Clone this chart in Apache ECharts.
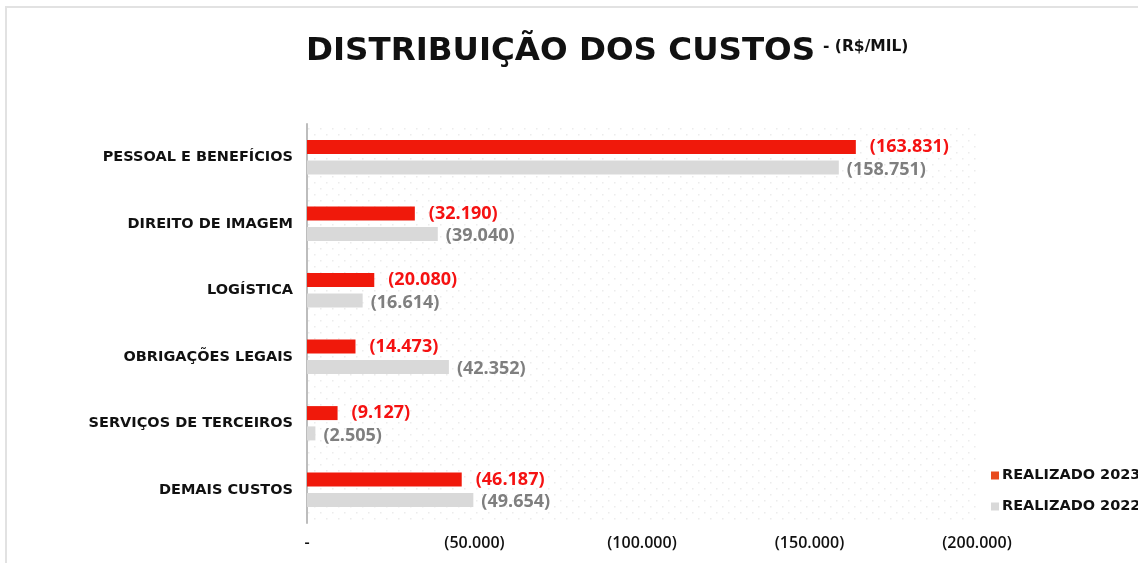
<!DOCTYPE html>
<html>
<head>
<meta charset="utf-8">
<title>Distribuição dos custos</title>
<script src="https://cdn.jsdelivr.net/npm/echarts@6/dist/echarts.min.js"></script>
<style>
  html, body { margin: 0; padding: 0; background: #fff; }
  #chart { width: 1138px; height: 563px; }
</style>
</head>
<body>
<div id="chart"></div>
<script>
// categorias (de cima para baixo)
const categorias = ['PESSOAL E BENEFÍCIOS', 'DIREITO DE IMAGEM', 'LOGÍSTICA', 'OBRIGAÇÕES LEGAIS', 'SERVIÇOS DE TERCEIROS', 'DEMAIS CUSTOS']
// valores em R$ mil
const realizado2023 = [163831, 32190, 20080, 14473, 9127, 46187]
const realizado2022 = [158751, 39040, 16614, 42352, 2505, 49654]
// eixo x
const eixoMin = 0
const eixoMax = 200000
const eixoIntervalo = 50000

// numero no formato brasileiro entre parenteses
const formatar = (v) => '(' + String(v).replace(/\B(?=(\d{3})+(?!\d))/g, '.') + ')'

// fundo pontilhado da area do grafico
const criarPadrao = () => {
  const c = document.createElement('canvas')
  c.width = 12
  c.height = 12
  const ctx = c.getContext('2d')
  ctx.fillStyle = '#ececec'
  ctx.fillRect(2, 2, 1.5, 1.5)
  ctx.fillRect(8, 8, 1.5, 1.5)
  return c
}

const chart = echarts.init(document.getElementById('chart'))
const option = {
  animation: false,
  backgroundColor: '#fff',
  title: [
    {
      text: 'DISTRIBUIÇÃO DOS CUSTOS',
      left: 301,
      top: 30,
      textStyle: { fontFamily: 'DejaVu Sans', fontWeight: 'bold', fontSize: 32.5, color: '#111' }
    },
    {
      text: '- (R$/MIL)',
      left: 818,
      top: 34,
      textStyle: { fontFamily: 'DejaVu Sans', fontWeight: 'bold', fontSize: 15.5, color: '#111' }
    }
  ],
  graphic: [
    {
      type: 'rect',
      silent: true,
      shape: { x: 6, y: 7, width: 1200, height: 620 },
      style: { fill: null, stroke: '#e2e2e2', lineWidth: 2 }
    }
  ],
  legend: {
    orient: 'vertical',
    left: 986,
    top: 463,
    itemWidth: 8,
    itemHeight: 8,
    itemGap: 16,
    icon: 'rect',
    textStyle: { fontFamily: 'DejaVu Sans', fontWeight: 'bold', fontSize: 14.5, color: '#111', padding: [0, 0, 0, -2] },
    data: [
      { name: 'REALIZADO 2023', itemStyle: { color: '#e84a1d' } },
      { name: 'REALIZADO 2022', itemStyle: { color: '#d9d9d9' } }
    ]
  },
  grid: {
    left: 307,
    right: 161,
    top: 124,
    bottom: 40,
    show: true,
    borderWidth: 0,
    backgroundColor: { image: criarPadrao(), repeat: 'repeat' }
  },
  xAxis: {
    type: 'value',
    min: eixoMin,
    max: eixoMax,
    interval: eixoIntervalo,
    axisLine: { show: false },
    axisTick: { show: false },
    splitLine: { show: false },
    axisLabel: {
      margin: 12,
      fontFamily: 'Open Sans',
      fontWeight: 600,
      fontSize: 16,
      color: '#111',
      formatter: (v) => (v === 0 ? '-' : formatar(v))
    }
  },
  yAxis: {
    type: 'category',
    inverse: true,
    data: categorias,
    axisLine: { show: true, lineStyle: { color: '#bdbdbd', width: 2 } },
    axisTick: { show: false },
    axisLabel: {
      margin: 14,
      fontFamily: 'DejaVu Sans',
      fontWeight: 'bold',
      fontSize: 14.5,
      color: '#111'
    }
  },
  series: [
    {
      name: 'REALIZADO 2023',
      type: 'bar',
      data: realizado2023,
      barWidth: 14,
      barGap: '45%',
      itemStyle: { color: '#f0190b' },
      label: {
        show: true,
        position: 'right',
        distance: 14,
        fontFamily: 'Open Sans',
        fontWeight: 'bold',
        fontSize: 18,
        color: '#f51212',
        formatter: (p) => formatar(p.value)
      }
    },
    {
      name: 'REALIZADO 2022',
      type: 'bar',
      data: realizado2022,
      barWidth: 14,
      itemStyle: { color: '#d9d9d9' },
      label: {
        show: true,
        position: 'right',
        distance: 8,
        offset: [0, 2],
        fontFamily: 'Open Sans',
        fontWeight: 'bold',
        fontSize: 18,
        color: '#7f7f7f',
        formatter: (p) => formatar(p.value)
      }
    }
  ]
}
chart.setOption(option)
</script>
</body>
</html>
